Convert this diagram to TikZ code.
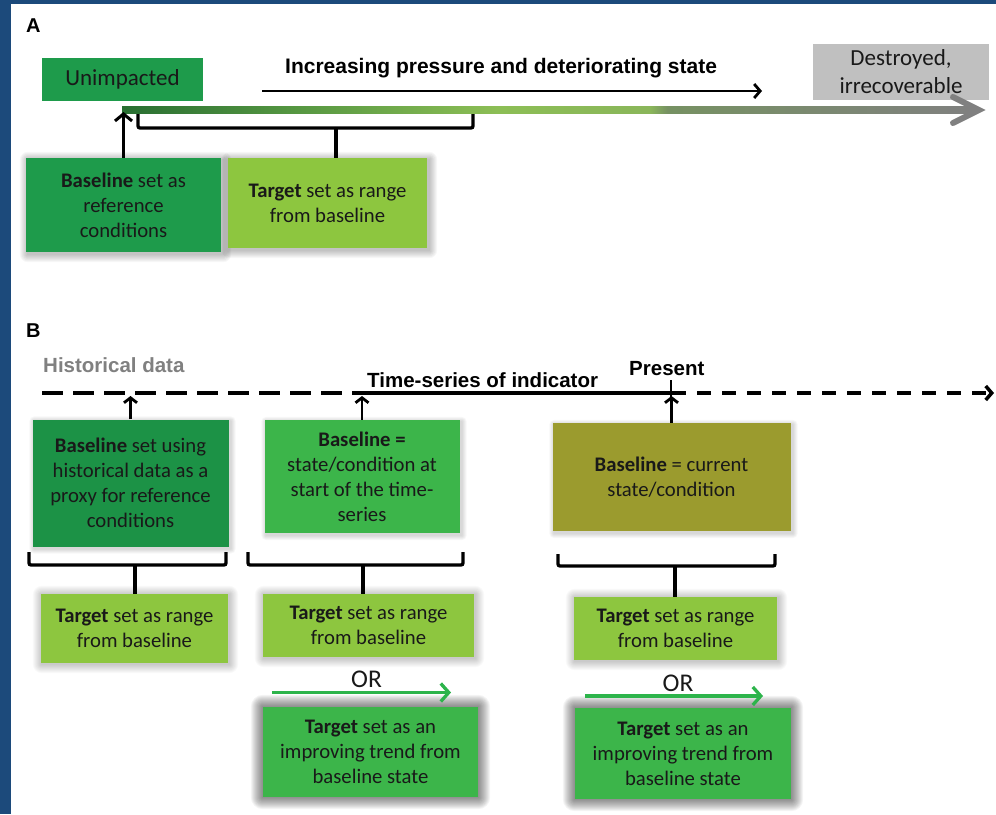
\documentclass[tikz,border=0pt]{standalone}
\usepackage{fontspec}
\setmainfont{Carlito}
\newfontfamily\headfont{Liberation Sans}
\usetikzlibrary{arrows.meta}

\definecolor{frameblue}{RGB}{28,74,123}
\definecolor{midgreen}{RGB}{30,155,75}
\definecolor{deepgreen}{RGB}{28,146,70}
\definecolor{brightgreen}{RGB}{60,181,74}
\definecolor{lightgreen}{RGB}{141,198,63}
\definecolor{olivebox}{RGB}{155,155,46}
\definecolor{stonegray}{RGB}{192,192,192}
\definecolor{labelgray}{RGB}{128,128,128}
\definecolor{inkdark}{RGB}{25,25,25}
\definecolor{trendgreen}{RGB}{45,180,75}
\definecolor{prA}{RGB}{40,110,50}
\definecolor{prB}{RGB}{85,150,65}
\definecolor{prC}{RGB}{140,190,85}
\definecolor{prD}{RGB}{138,182,90}
\definecolor{prE}{RGB}{118,145,98}
\definecolor{prF}{RGB}{128,128,128}

% pressure gradient: dark green -> light green -> grey
\pgfdeclarehorizontalshading{pressure}{100bp}{color(0bp)=(prA); color(25bp)=(prA);
  color(35bp)=(prB); color(47bp)=(prC); color(56bp)=(prD); color(57bp)=(prE);
  color(75bp)=(prF); color(100bp)=(prF)}

\pgfdeclarelayer{paper}
\pgfdeclarelayer{glow}
\pgfsetlayers{paper,glow,main}

% soft glow behind a box: node name, number of rings, opacity per ring, offset
\newcommand\boxglow[4]{%
  \begin{pgfonlayer}{glow}
    \foreach \k in {1,...,#2}{%
      \fill[black, opacity=#3, rounded corners=\k pt]
        ([shift={(#4pt-\k pt,-#4pt-\k pt)}]#1.south west) rectangle
        ([shift={(#4pt+\k pt,-#4pt+\k pt)}]#1.north east);
    }
  \end{pgfonlayer}}

\tikzset{
  box/.style={rectangle, inner sep=0pt, align=center, text=inkdark,
    font=\fontsize{20.7}{25}\selectfont},
  heading/.style={inner sep=0pt, anchor=base west,
    font=\headfont\bfseries\fontsize{21}{25}\selectfont},
  bracket/.style={line width=3.3pt, rounded corners=2pt},
  stem/.style={line width=3.3pt},
  uparrow/.style={line width=3pt, -{Straight Barb[length=7pt,width=17pt]}},
  smallup/.style={line width=2.8pt, -{Straight Barb[length=5pt,width=13pt]}},
  trend/.style={line width=3.3pt, draw=trendgreen,
    -{Straight Barb[length=8pt,width=18pt]}},
  timeline/.style={line width=3.5pt},
}

\begin{document}
\begin{tikzpicture}[x=1pt,y=-1pt]
\useasboundingbox (0,0) rectangle (996,814);
\begin{pgfonlayer}{paper}
  \fill[white] (0,0) rectangle (996,814);
  \fill[frameblue] (0,0) rectangle (11,814);
  \fill[frameblue] (0,0) rectangle (996,4);
\end{pgfonlayer}

% ---------------- panel A ----------------
\node[heading, font=\headfont\bfseries\fontsize{20}{24}\selectfont] (labA) at (26,32) {A};

\node[box, fill=midgreen, minimum width=161pt, minimum height=43pt,
  font=\fontsize{23}{28}\selectfont] (unimp) at (122.5,79.5) {Unimpacted};
\node[box, fill=stonegray, minimum width=176pt, minimum height=56pt,
  font=\fontsize{23}{28}\selectfont] (destroy) at (901,72) {Destroyed,\\irrecoverable};

\node[heading] (pressure) at (285,73) {Increasing pressure and deteriorating state};
\coordinate (pressStart) at (262,91);
\coordinate (pressEnd) at (762,91);
\draw[line width=2.8pt, -{Straight Barb[length=6pt,width=14pt]}] (pressStart) -- (pressEnd);

% state gradient bar
\coordinate (stateStart) at (122,110);
\coordinate (stateTip) at (979,110);
\shade[shading=pressure] (122,106.5) rectangle (974,113.5);
\draw[draw=prF, line width=6pt, line cap=round, line join=miter]
  (953,97) -- (stateTip) -- (953,123);

\node[box, fill=midgreen, minimum width=195pt, minimum height=94pt]
  (baseA) at (123.5,205) {\textbf{Baseline} set as\\reference\\conditions};
\node[box, fill=lightgreen, minimum width=199pt, minimum height=90pt]
  (targA) at (327.5,203) {\textbf{Target} set as range\\from baseline};
\boxglow{baseA}{8}{0.03}{2}
\boxglow{targA}{8}{0.03}{2}

\coordinate (unimpFoot) at (123.5,112);
\draw[uparrow] (baseA.north) -- (unimpFoot);

\draw[bracket] (138,114) -- (138,128) -- (473,128) -- (473,114);
\coordinate (bracketA) at (336,128);
\draw[stem] (bracketA) -- (bracketA |- targA.north);

% ---------------- panel B ----------------
\node[heading, font=\headfont\bfseries\fontsize{20}{24}\selectfont] (labB) at (26,337) {B};
\node[heading, text=labelgray, font=\headfont\bfseries\fontsize{20.5}{24}\selectfont]
  (hist) at (43,372) {Historical data};
\node[heading, font=\headfont\bfseries\fontsize{20.5}{24}\selectfont]
  (series) at (367,387) {Time-series of indicator};
\node[heading, font=\headfont\bfseries\fontsize{20.5}{24}\selectfont]
  (presentlab) at (629,375) {Present};

\coordinate (histStart) at (42,393);
\coordinate (seriesStart) at (362,393);
\coordinate (present) at (672,393);
\coordinate (futureEnd) at (994,393);
\draw[timeline, dash pattern=on 21pt off 10pt] (histStart) -- (seriesStart);
\draw[timeline] (seriesStart) -- (present);
\draw[timeline, dash pattern=on 14pt off 11pt, -{Straight Barb[length=6pt,width=14pt]}]
  (present) -- (futureEnd);
\draw[line width=2.5pt] (671,380) -- (671,398);

\node[box, fill=deepgreen, minimum width=196pt, minimum height=127pt]
  (b1) at (130.5,483) {\textbf{Baseline} set using\\historical data as a\\proxy for reference\\conditions};
\node[box, fill=brightgreen, minimum width=195pt, minimum height=113pt]
  (b2) at (362,476.5) {\textbf{Baseline =}\\state/condition at\\start of the time-\\series};
\node[box, fill=olivebox, minimum width=238pt, minimum height=108pt]
  (b3) at (671.5,477) {\textbf{Baseline} = current\\state/condition};
\boxglow{b1}{5}{0.03}{2}
\boxglow{b2}{5}{0.03}{2}
\boxglow{b3}{5}{0.03}{2}

\coordinate (histMark) at (130,396);
\coordinate (seriesMark) at (362,396);
\coordinate (presentMark) at (672,396);
\draw[smallup] (b1.north) -- (b1.north |- histMark);
\draw[smallup] (b2.north) -- (b2.north |- seriesMark);
\draw[smallup] (b3.north) -- (b3.north |- presentMark);

\node[box, fill=lightgreen, minimum width=187pt, minimum height=69pt]
  (t1) at (134.5,628.5) {\textbf{Target} set as range\\from baseline};
\node[box, fill=lightgreen, minimum width=211pt, minimum height=63pt]
  (t2) at (368.5,625.5) {\textbf{Target} set as range\\from baseline};
\node[box, fill=lightgreen, minimum width=203pt, minimum height=63pt]
  (t3) at (675.5,628.5) {\textbf{Target} set as range\\from baseline};
\boxglow{t1}{9}{0.025}{1}
\boxglow{t2}{9}{0.025}{1}
\boxglow{t3}{9}{0.025}{1}

\draw[bracket] (29,552) -- (29,565) -- (226,565) -- (226,552);
\draw[bracket] (248,552) -- (248,565) -- (463,565) -- (463,552);
\draw[bracket] (558,554) -- (558,566) -- (775,566) -- (775,554);
\coordinate (bracketB1) at (135,565);
\coordinate (bracketB2) at (363,565);
\coordinate (bracketB3) at (675,566);
\draw[stem] (bracketB1) -- (bracketB1 |- t1.north);
\draw[stem] (bracketB2) -- (bracketB2 |- t2.north);
\draw[stem] (bracketB3) -- (bracketB3 |- t3.north);

\node[box, font=\fontsize{25.5}{30}\selectfont] (or2) at (366.5,679) {OR};
\node[box, font=\fontsize{25.5}{30}\selectfont] (or3) at (678,683) {OR};
\coordinate (trend2a) at (272,692.5);
\coordinate (trend2b) at (451,692.5);
\coordinate (trend3a) at (585,696);
\coordinate (trend3b) at (763,696);
\draw[trend] (trend2a) -- (trend2b);
\draw[trend] (trend3a) -- (trend3b);

\node[box, fill=brightgreen, minimum width=215pt, minimum height=90pt]
  (i2) at (370.5,752) {\textbf{Target} set as an\\improving trend from\\baseline state};
\node[box, fill=brightgreen, minimum width=216pt, minimum height=91pt]
  (i3) at (683,753.5) {\textbf{Target} set as an\\improving trend from\\baseline state};
\boxglow{i2}{12}{0.045}{0}
\boxglow{i3}{12}{0.045}{0}
\end{tikzpicture}
\end{document}
